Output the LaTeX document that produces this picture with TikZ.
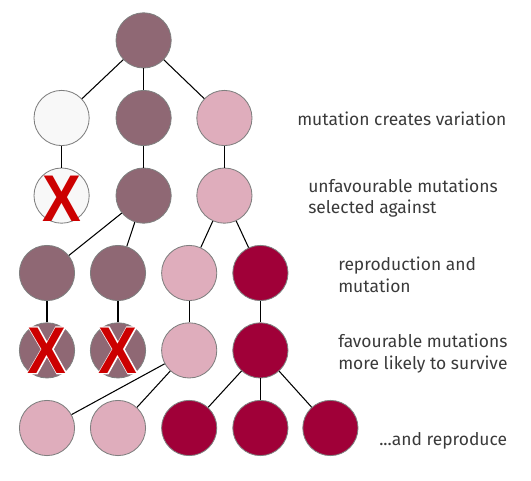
\documentclass[tikz,border=0pt]{standalone}
\usepackage{fontspec}
\setmainfont{Fira Sans}
\newfontfamily\crossfont{Liberation Sans Bold}
\newfontfamily\halofont{Liberation Sans Bold}[FakeBold=3.6]

\definecolor{mauve}{HTML}{8F6874}
\definecolor{blush}{HTML}{DFADBC}
\definecolor{crimson}{HTML}{A00038}
\definecolor{paper}{HTML}{F8F8F8}
\definecolor{rim}{HTML}{7F7F7F}
\definecolor{crossred}{HTML}{CC0000}
\definecolor{ink}{HTML}{3A3A3A}

\begin{document}
\begin{tikzpicture}[cell/.style={circle,draw=rim,line width=0.6pt,minimum size=1.38cm,inner sep=0pt},
  edge/.style={-,line width=0.75pt},
  note/.style={anchor=west,align=left,inner sep=0pt,text=ink,font=\fontsize{12.4}{15}\selectfont},
  cross/.style={inner sep=0pt,text=crossred,font=\crossfont\fontsize{47}{47}\selectfont},
  halo/.style={inner sep=0pt,text=white,font=\halofont\fontsize{47}{47}\selectfont}]
  \useasboundingbox (0,0) rectangle (13.275,12);

  % Vertices
  \node[cell,fill=mauve] (n0) at (3.59,10.99) {};
  \node[cell,fill=paper] (a1) at (1.54,9.05) {};
  \node[cell,fill=mauve] (a2) at (3.59,9.05) {};
  \node[cell,fill=blush] (a3) at (5.61,9.05) {};
  \node[cell,fill=paper] (b1) at (1.54,7.11) {};
  \node[cell,fill=mauve] (b2) at (3.59,7.11) {};
  \node[cell,fill=blush] (b3) at (5.61,7.11) {};
  \node[cell,fill=mauve] (c1) at (1.175,5.175) {};
  \node[cell,fill=mauve] (c2) at (2.95,5.175) {};
  \node[cell,fill=blush] (c3) at (4.73,5.175) {};
  \node[cell,fill=crimson] (c4) at (6.51,5.175) {};
  \node[cell,fill=mauve] (d1) at (1.175,3.24) {};
  \node[cell,fill=mauve] (d2) at (2.95,3.24) {};
  \node[cell,fill=blush] (d3) at (4.73,3.24) {};
  \node[cell,fill=crimson] (d4) at (6.51,3.24) {};
  \node[cell,fill=blush] (e1) at (1.175,1.3) {};
  \node[cell,fill=blush] (e2) at (2.95,1.3) {};
  \node[cell,fill=crimson] (e3) at (4.73,1.3) {};
  \node[cell,fill=crimson] (e4) at (6.51,1.3) {};
  \node[cell,fill=crimson] (e5) at (8.26,1.3) {};

  % Edges
  \draw[edge] (n0) -- (a1);
  \draw[edge] (n0) -- (a2);
  \draw[edge] (n0) -- (a3);
  \draw[edge] (a1) -- (b1);
  \draw[edge] (a2) -- (b2);
  \draw[edge] (a3) -- (b3);
  \draw[edge] (b2) -- (c1);
  \draw[edge] (b2) -- (c2);
  \draw[edge] (b3) -- (c3);
  \draw[edge] (b3) -- (c4);
  \draw[edge] (c1) -- (d1);
  \draw[edge] (c2) -- (d2);
  \draw[edge] (c3) -- (d3);
  \draw[edge] (c4) -- (d4);
  \draw[edge] (d3) -- (e1);
  \draw[edge] (d3) -- (e2);
  \draw[edge] (d4) -- (e3);
  \draw[edge] (d4) -- (e4);
  \draw[edge] (d4) -- (e5);

  % Crosses
  \node[cross] (x1) at (1.54,7.02) {\scalebox{0.88}[1]{X}};
  \node[halo] (h2) at (d1) {\scalebox{0.88}[1]{X}};
  \node[cross] (x2) at (d1) {\scalebox{0.88}[1]{X}};
  \node[halo] (h3) at (d2) {\scalebox{0.88}[1]{X}};
  \node[cross] (x3) at (d2) {\scalebox{0.88}[1]{X}};

  % Notes
  \node[note] (t1) at (7.425,9.025) {mutation creates variation};
  \node[note] (t2) at (7.7,7.05) {unfavourable mutations\\selected against};
  \node[note] (t3) at (8.45,5.13) {reproduction and\\mutation};
  \node[note] (t4) at (8.45,3.16) {favourable mutations\\more likely to survive};
  \node[note] (t5) at (9.475,0.975) {...and reproduce};
\end{tikzpicture}
\end{document}
